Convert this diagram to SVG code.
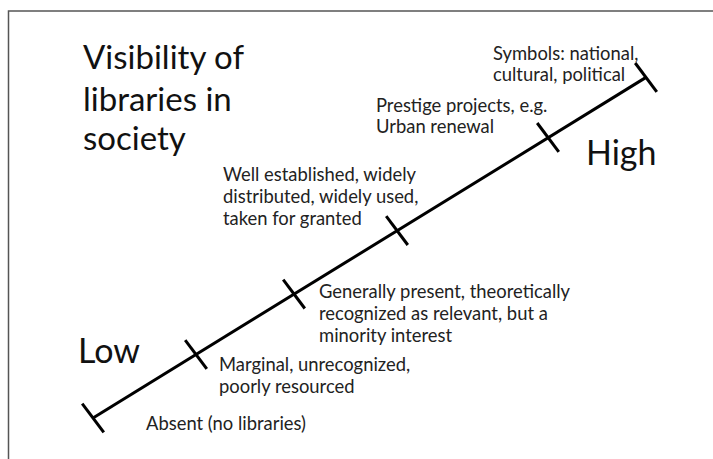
<svg xmlns="http://www.w3.org/2000/svg" width="713" height="459" viewBox="0 0 713 459">
<style>
.big{font-family:Lato,"Liberation Sans",sans-serif;font-size:33px;fill:#111}
.lh{font-size:34px}
.sm{font-family:Lato,"Liberation Sans",sans-serif;font-size:18.4px;fill:#222}
.ax{stroke:#000;stroke-width:3;fill:none;stroke-linecap:butt}
.frame{stroke:#555;stroke-width:1.5;fill:none}
</style>
<rect width="713" height="459" fill="#fff"/>
<path class="frame" d="M8.5 459 V11 H713"/>
<g id="connectors">
<line class="ax" x1="93" y1="418" x2="646" y2="77.4"/>
<line class="ax" x1="82.2" y1="403.6" x2="103.8" y2="432.4"/>
<line class="ax" x1="185.2" y1="340.1" x2="206.8" y2="368.9"/>
<line class="ax" x1="283.2" y1="279.7" x2="304.8" y2="308.5"/>
<line class="ax" x1="386.2" y1="216.2" x2="407.8" y2="245"/>
<line class="ax" x1="537.2" y1="123" x2="558.8" y2="151.8"/>
<line class="ax" x1="635.2" y1="63" x2="656.8" y2="91.8"/>
</g>
<g id="title">
<text class="big" x="83" y="69">Visibility of</text>
<text class="big" x="83" y="111">libraries in</text>
<text class="big" x="83" y="150">society</text>
</g>
<g id="low"><text class="big lh" x="78" y="363">Low</text></g>
<g id="high"><text class="big lh" x="586" y="165">High</text></g>
<g id="symbols">
<text class="sm" x="493" y="60">Symbols: national,</text>
<text class="sm" x="493" y="81">cultural, political</text>
</g>
<g id="prestige">
<text class="sm" x="376" y="112">Prestige projects, e.g.</text>
<text class="sm" x="376" y="133">Urban renewal</text>
</g>
<g id="established">
<text class="sm" x="223" y="181">Well established, widely</text>
<text class="sm" x="223" y="203">distributed, widely used,</text>
<text class="sm" x="223" y="225">taken for granted</text>
</g>
<g id="generally">
<text class="sm" x="319" y="298">Generally present, theoretically</text>
<text class="sm" x="319" y="320">recognized as relevant, but a</text>
<text class="sm" x="319" y="342">minority interest</text>
</g>
<g id="marginal">
<text class="sm" x="219" y="371">Marginal, unrecognized,</text>
<text class="sm" x="219" y="393">poorly resourced</text>
</g>
<g id="absent">
<text class="sm" x="146" y="430">Absent (no libraries)</text>
</g>
</svg>
